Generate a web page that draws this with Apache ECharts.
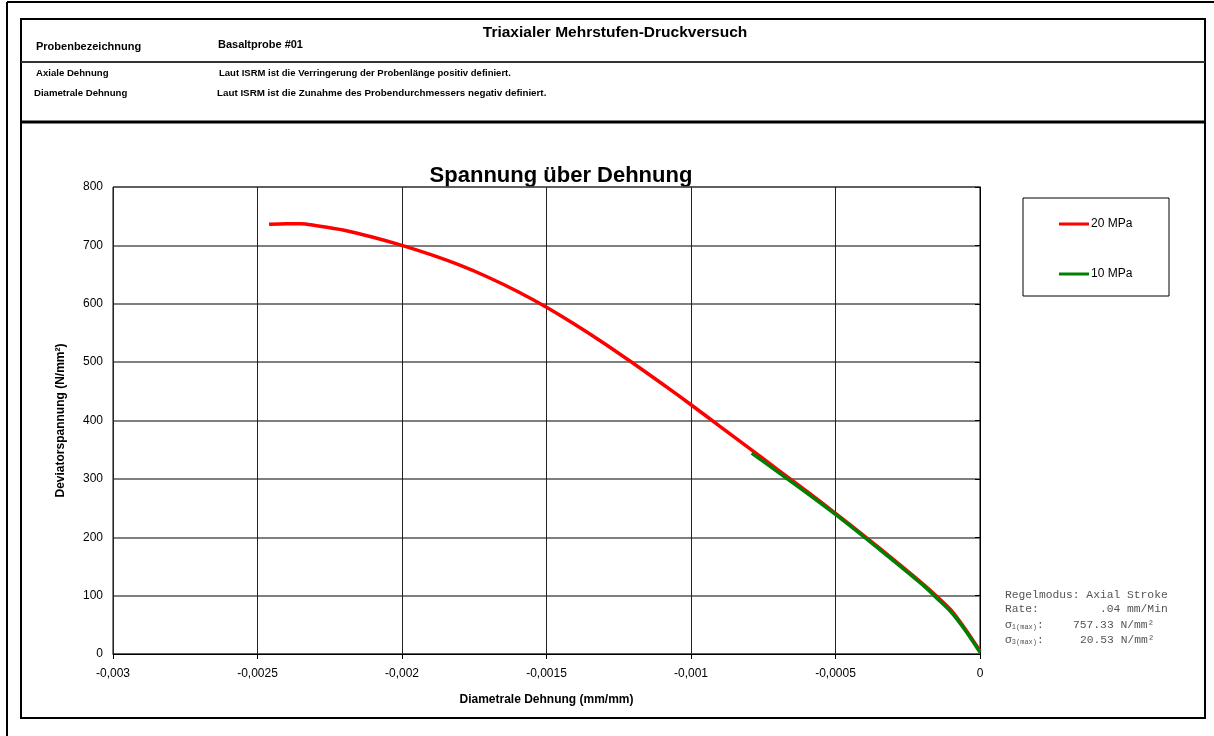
<!DOCTYPE html>
<html>
<head>
<meta charset="utf-8">
<script src="https://cdn.jsdelivr.net/npm/echarts@6/dist/echarts.min.js"></script>
<style>
html,body{margin:0;padding:0;background:#fff;}
#chart{width:1214px;height:736px;}
</style>
</head>
<body>
<div id="chart"></div>
<script>
// ---- data ----
const seriesNames = ['20 MPa', '10 MPa'];
const strain20 = [-0.00246,-0.0024,-0.00235,-0.0023,-0.0022,-0.0021,-0.002,-0.0019,-0.0018,-0.0017,-0.0016,-0.0015,-0.0014,-0.0013,-0.0012,-0.0011,-0.001,-0.0009,-0.0008,-0.0007,-0.0006,-0.0005,-0.0004,-0.0003,-0.0002,-0.00015,-0.0001,-0.00005,0];
const stress20 = [736,737,737,734,726,714,700,684,666,645,621,594,564,532,498,463,427,390,353,316,279,241,202,162,121,99,75,42,5];
const strain10 = [-0.00079,-0.00075,-0.0007,-0.0006,-0.0005,-0.0004,-0.0003,-0.0002,-0.00015,-0.0001,-0.00005,0];
const stress10 = [344,330,312,276,239,200,160,119,96,72,40,3];
const xTicks = [-0.003,-0.0025,-0.002,-0.0015,-0.001,-0.0005,0];
const yTicks = [0,100,200,300,400,500,600,700,800];

const zip = (a,b) => a.map((v,i)=>[v,b[i]]);
const chart = echarts.init(document.getElementById('chart'));
const F = 'Liberation Sans, Arial, sans-serif';
const M = 'Liberation Mono, Courier New, monospace';

function txt(x,y,text,size,opts){
  return {type:'text',x:x,y:y,style:Object.assign({text:text,font:'bold '+size+'px '+F,fill:'#000',textVerticalAlign:'middle'},opts||{})};
}
const graphics = [
  // outer frame
  {type:'line',shape:{x1:7,y1:2,x2:1214,y2:2},style:{stroke:'#000',lineWidth:2}},
  {type:'line',shape:{x1:7,y1:2,x2:7,y2:736},style:{stroke:'#000',lineWidth:2}},
  // inner box
  {type:'rect',shape:{x:21,y:19,width:1184,height:699},style:{fill:'none',stroke:'#000',lineWidth:2}},
  {type:'line',shape:{x1:21,y1:62,x2:1205,y2:62},style:{stroke:'#333',lineWidth:2}},
  {type:'line',shape:{x1:21,y1:122,x2:1205,y2:122},style:{stroke:'#000',lineWidth:3}},
  txt(615,33,'Triaxialer Mehrstufen-Druckversuch',15.5,{textAlign:'center'}),
  txt(36,47,'Probenbezeichnung',11),
  txt(218,45,'Basaltprobe #01',11),
  txt(36,73,'Axiale Dehnung',9.6),
  txt(219,73,'Laut ISRM ist die Verringerung der Probenlänge positiv definiert.',9.5),
  txt(34,93,'Diametrale Dehnung',9.6),
  txt(217,93,'Laut ISRM ist die Zunahme des Probendurchmessers negativ definiert.',9.8),
  txt(561,176,'Spannung über Dehnung',22,{textAlign:'center'}),
  // legend box
  {type:'rect',shape:{x:1023,y:198,width:146,height:98},style:{fill:'#fff',stroke:'#000',lineWidth:1},z:5},
  // annotation
  {type:'text',x:1005,y:595,z:6,style:{text:'Regelmodus: Axial Stroke',font:'11.3px '+M,fill:'#555',textVerticalAlign:'middle'}},
  {type:'text',x:1005,y:609,z:6,style:{text:'Rate:         .04 mm/Min',font:'11.3px '+M,fill:'#555',textVerticalAlign:'middle'}},
  {type:'text',x:1005,y:625,z:6,style:{text:'{s|σ}{b|1(max)}{s|:}',fill:'#555',textVerticalAlign:'middle',rich:{s:{font:'11.3px '+M,fill:'#555'},b:{font:'7px '+M,fill:'#555',padding:[5,0,0,0]}}}},
  {type:'text',x:1073,y:625,z:6,style:{text:'757.33 N/mm²',font:'11.3px '+M,fill:'#555',textVerticalAlign:'middle'}},
  {type:'text',x:1005,y:640,z:6,style:{text:'{s|σ}{b|3(max)}{s|:}',fill:'#555',textVerticalAlign:'middle',rich:{s:{font:'11.3px '+M,fill:'#555'},b:{font:'7px '+M,fill:'#555',padding:[5,0,0,0]}}}},
  {type:'text',x:1080,y:640,z:6,style:{text:'20.53 N/mm²',font:'11.3px '+M,fill:'#555',textVerticalAlign:'middle'}}
];

chart.setOption({
  animation:false,
  backgroundColor:'#fff',
  textStyle:{fontFamily:F},
  grid:{left:113,right:234,top:187,bottom:82,containLabel:false,show:true,borderColor:'#000',borderWidth:1,backgroundColor:'transparent'},
  legend:{
    left:1059,top:218,padding:0,orient:'vertical',itemGap:38,itemWidth:30,itemHeight:3,icon:'rect',
    data:seriesNames,textStyle:{fontSize:12,color:'#000',fontFamily:F,padding:[0,0,0,-3]},z:10
  },
  xAxis:{
    type:'value',min:-0.003,max:0,interval:0.0005,
    name:'Diametrale Dehnung (mm/mm)',nameLocation:'middle',nameGap:40,
    nameTextStyle:{fontWeight:'bold',fontSize:12,color:'#000'},
    axisLine:{show:true,onZero:false,lineStyle:{color:'#000',width:1}},
    axisTick:{show:true,length:5,lineStyle:{color:'#000'}},
    axisLabel:{fontSize:12,color:'#000',margin:14,formatter:v=>{if(Math.abs(v)<1e-12)return '0';const t=xTicks.find(k=>Math.abs(k-v)<1e-9);return String(t!==undefined?t:v).replace('.',',');}},
    splitLine:{show:true,lineStyle:{color:'#222',width:1}}
  },
  yAxis:{
    type:'value',min:0,max:800,interval:100,
    name:'Deviatorspannung (N/mm²)',nameLocation:'middle',nameGap:46,nameRotate:90,
    nameTextStyle:{fontWeight:'bold',fontSize:12,color:'#000'},
    axisLine:{show:true,lineStyle:{color:'#000',width:1}},
    axisTick:{show:true,length:5,lineStyle:{color:'#000'}},
    axisLabel:{fontSize:12,color:'#000',margin:10},
    splitLine:{show:true,lineStyle:{color:'#555',width:1.5}}
  },
  series:[
    {name:seriesNames[0],type:'line',data:zip(strain20,stress20),smooth:0.3,showSymbol:false,symbol:'none',lineStyle:{color:'#ff0000',width:3.5},itemStyle:{color:'#ff0000'},z:3},
    {name:seriesNames[1],type:'line',data:zip(strain10,stress10),smooth:0.3,showSymbol:false,symbol:'none',lineStyle:{color:'#008000',width:3.5},itemStyle:{color:'#008000'},z:4}
  ],
  graphic:graphics
});
</script>
</body>
</html>
